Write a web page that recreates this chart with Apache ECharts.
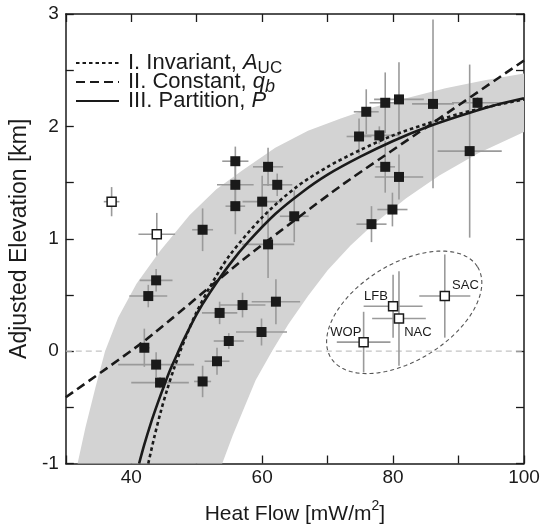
<!DOCTYPE html>
<html>
<head>
<meta charset="utf-8">
<script src="https://cdn.jsdelivr.net/npm/echarts@6/dist/echarts.min.js"></script>
<style>
  html, body { margin: 0; padding: 0; background: #fff; }
  #chart { width: 546px; height: 530px; }
</style>
</head>
<body>
<div id="chart"></div>
<script>
// filled squares: heat flow, elevation, +/- errors
const fillX  = [42.0, 42.6, 43.8, 43.8, 44.4, 50.9, 50.9, 53.1, 53.5, 54.9, 55.9, 55.9, 55.9, 57.0, 59.9, 60.0, 60.9,
                60.9, 62.1, 62.3, 64.9, 74.8, 75.9, 76.7, 77.9, 78.8, 78.8, 79.9, 80.9, 80.9, 86.1, 91.7, 92.9];
const fillY  = [0.03, 0.49, 0.63, -0.12, -0.28, 1.08, -0.27, -0.09, 0.34, 0.09, 1.69, 1.48, 1.29, 0.41, 0.17, 1.33, 1.64,
                0.95, 0.44, 1.48, 1.20, 1.91, 2.13, 1.13, 1.92, 2.21, 1.64, 1.26, 2.24, 1.55, 2.20, 1.78, 2.21];
const fillXe = [0.8, 2.9, 2.5, 5.8, 4.4, 1.6, 1.3, 1.9, 2.7, 2.3, 2.0, 2.8, 1.5, 3.5, 3.9, 3.0, 2.3,
                4.0, 3.7, 2.3, 2.2, 1.9, 1.9, 2.3, 3.0, 2.4, 1.5, 2.3, 3.8, 3.7, 3.2, 4.9, 3.9];
const fillYe = [0.17, 0.10, 0.10, 0.11, 0.05, 0.19, 0.14, 0.12, 0.10, 0.07, 0.13, 0.20, 0.25, 0.11, 0.12, 0.23, 0.17,
                0.30, 0.20, 0.10, 0.23, 0.16, 0.20, 0.16, 0.08, 0.27, 0.23, 0.15, 0.33, 0.20, 0.75, 0.77, 0.05];

// open squares
const openName = ['', '', 'WOP', 'LFB', 'NAC', 'SAC'];
const openX  = [37.0, 43.9, 75.5, 80.0, 80.9, 87.9];
const openY  = [1.33, 1.04, 0.08, 0.40, 0.29, 0.49];
const openXe = [1.2, 2.8, 4.1, 4.5, 4.1, 3.9];
const openYe = [0.13, 0.19, 0.27, 0.28, 0.42, 0.37];

// model curves
const invX = [42.6, 43.5, 44.5, 45.5, 46.5, 47.5, 48.5, 50, 52, 55, 60, 65, 70, 75, 80, 85, 90, 95, 100];
const invY = [-1.0, -0.77, -0.54, -0.34, -0.16, 0.0, 0.15, 0.35, 0.57, 0.85, 1.19, 1.45, 1.64, 1.79, 1.92, 2.02, 2.11, 2.18, 2.24];
const conX = [30, 42, 57, 72, 87.3, 100];
const conY = [-0.41, 0.09, 0.81, 1.47, 2.08, 2.586];
const parX = [41.2, 42, 43, 44, 45, 46, 47, 48, 50, 52, 55, 58, 62, 66, 70, 75, 80, 85, 90, 95, 100];
const parY = [-1.0, -0.83, -0.64, -0.47, -0.31, -0.16, -0.03, 0.10, 0.33, 0.52, 0.77, 0.98, 1.22, 1.41, 1.57, 1.73, 1.87, 1.99, 2.09, 2.18, 2.25];

// grey band
const bandUpX = [31.8, 33, 34.5, 36, 38, 40.8, 44.4, 48.9, 53, 57, 62, 67, 72, 77, 82, 88, 94, 100];
const bandUpY = [-1.0, -0.68, -0.33, 0.0, 0.3, 0.6, 0.89, 1.21, 1.44, 1.61, 1.81, 1.96, 2.07, 2.17, 2.25, 2.34, 2.41, 2.47];
const bandLoX = [53.9, 55.5, 57, 59, 61.5, 64, 67, 70, 73.5, 77, 82, 87, 93, 100];
const bandLoY = [-1.0, -0.75, -0.54, -0.26, 0.0, 0.24, 0.49, 0.72, 0.94, 1.13, 1.36, 1.56, 1.76, 1.95];

const zeroX = [30, 100];
const zeroY = [0, 0];

// dashed ellipse round the open group
const ellCenter = [81.7, 0.345];
const ellMajor = [92.9, 0.75];
const ellMinor = [85.6, -0.02];

const ink = '#1a1a1a';
const font = 'Liberation Sans, Arial, Helvetica, sans-serif';

const chart = echarts.init(document.getElementById('chart'));

function pairs(xs, ys) {
  return xs.map((x, i) => [x, ys[i]]);
}

function errorBars(xs, ys, xe, ye) {
  return {
    type: 'custom',
    silent: true,
    z: 3,
    encode: { x: 0, y: 1 },
    data: xs.map((x, i) => [x, ys[i], xe[i], ye[i]]),
    renderItem: (params, api) => {
      const x = api.value(0), y = api.value(1), dx = api.value(2), dy = api.value(3);
      const l = api.coord([x - dx, y]), r = api.coord([x + dx, y]);
      const t = api.coord([x, y + dy]), b = api.coord([x, y - dy]);
      const style = { stroke: '#9a9a9a', lineWidth: 1.6 };
      return {
        type: 'group',
        children: [
          { type: 'line', shape: { x1: l[0], y1: l[1], x2: r[0], y2: r[1] }, style: style },
          { type: 'line', shape: { x1: t[0], y1: t[1], x2: b[0], y2: b[1] }, style: style }
        ]
      };
    }
  };
}

function curve(name, xs, ys, dash, smooth) {
  return {
    name: name,
    type: 'line',
    data: pairs(xs, ys),
    smooth: smooth,
    symbol: 'none',
    silent: true,
    z: 5,
    itemStyle: { color: ink },
    lineStyle: { color: ink, width: 2.6, type: dash }
  };
}

const frameAxis = {
  axisLine: { show: true, onZero: false, lineStyle: { color: ink, width: 1.5 } },
  axisTick: { show: true, inside: true, length: 8, lineStyle: { color: ink, width: 1.3 } },
  splitLine: { show: false }
};

const option = {
  animation: false,
  backgroundColor: '#fff',
  textStyle: { fontFamily: font, color: ink },
  grid: { left: 62, right: 22, top: 14, bottom: 55, containLabel: false },
  legend: {
    orient: 'vertical',
    left: 70, top: 44,
    itemWidth: 43, itemHeight: 14, itemGap: -9,
    itemStyle: { opacity: 0 },
    data: ['I', 'II', 'III'],
    formatter: n => ({
      I: 'I. Invariant, {i|A}{sub|UC}',
      II: 'II. Constant, {i|q}{subi|b}',
      III: 'III. Partition, {i|P}'
    })[n],
    textStyle: {
      fontFamily: font, fontSize: 22, color: ink, lineHeight: 28, padding: [0, 0, 0, 4],
      rich: {
        i: { fontFamily: font, fontSize: 22, fontStyle: 'italic', color: ink, lineHeight: 28 },
        sub: { fontFamily: font, fontSize: 17, color: ink, lineHeight: 12, verticalAlign: 'bottom' },
        subi: { fontFamily: font, fontSize: 18, fontStyle: 'italic', color: ink, lineHeight: 12, verticalAlign: 'bottom' }
      }
    }
  },
  xAxis: [
    Object.assign({}, frameAxis, {
      type: 'value', min: 30, max: 100, interval: 10, position: 'bottom',
      axisLabel: { fontSize: 19, color: ink, margin: 5, fontFamily: font,
        formatter: v => (v % 20 === 0 ? String(v) : '') },
      name: 'Heat Flow [mW/m{sup|2}]',
      nameLocation: 'middle', nameGap: 36,
      nameTextStyle: { fontSize: 21, color: ink, fontFamily: font,
        rich: { sup: { fontSize: 14, verticalAlign: 'top', lineHeight: 30, fontFamily: font, color: ink } } }
    }),
    Object.assign({}, frameAxis, {
      type: 'value', min: 30, max: 100, interval: 10, position: 'top',
      axisLabel: { show: false }
    })
  ],
  yAxis: [
    Object.assign({}, frameAxis, {
      type: 'value', min: -1, max: 3, interval: 0.5, position: 'left',
      axisLabel: { fontSize: 19, color: ink, margin: 7, fontFamily: font,
        formatter: v => (Number.isInteger(v) ? String(v) : '') },
      name: 'Adjusted Elevation [km]',
      nameLocation: 'middle', nameGap: 24,
      nameTextStyle: { fontSize: 23, color: ink, fontFamily: font }
    }),
    Object.assign({}, frameAxis, {
      type: 'value', min: -1, max: 3, interval: 0.5, position: 'right',
      axisLabel: { show: false }
    })
  ],
  series: [
    {
      type: 'line',
      data: pairs(zeroX, zeroY),
      symbol: 'none',
      silent: true,
      z: 1,
      lineStyle: { color: '#c4c4c4', width: 1.2, type: [6, 4] }
    },
    {
      type: 'custom',
      silent: true,
      z: 2,
      encode: { x: 0, y: 1 },
      data: [[bandUpX[0], bandUpY[0]]],
      renderItem: (params, api) => {
        const pts = pairs(bandUpX, bandUpY).map(p => api.coord(p))
          .concat(pairs(bandLoX, bandLoY).reverse().map(p => api.coord(p)));
        return { type: 'polygon', shape: { points: pts }, style: { fill: '#d3d3d3' } };
      }
    },
    errorBars(fillX, fillY, fillXe, fillYe),
    errorBars(openX, openY, openXe, openYe),
    {
      type: 'custom',
      silent: true,
      z: 4,
      encode: { x: 0, y: 1 },
      data: [ellCenter],
      renderItem: (params, api) => {
        const c = api.coord(ellCenter), a = api.coord(ellMajor), b = api.coord(ellMinor);
        const u = [a[0] - c[0], a[1] - c[1]], v = [b[0] - c[0], b[1] - c[1]];
        const pts = [];
        for (let k = 0; k < 120; k++) {
          const t = k / 120 * Math.PI * 2;
          pts.push([c[0] + u[0] * Math.cos(t) + v[0] * Math.sin(t), c[1] + u[1] * Math.cos(t) + v[1] * Math.sin(t)]);
        }
        return { type: 'polygon', shape: { points: pts },
          style: { fill: 'none', stroke: '#555', lineWidth: 1.1, lineDash: [4, 3] } };
      }
    },
    curve('I', invX, invY, [3.5, 3], 0.3),
    curve('II', conX, conY, [9, 5], 0.2),
    curve('III', parX, parY, 'solid', 0.3),
    {
      type: 'scatter',
      symbol: 'rect',
      symbolSize: 10,
      silent: true,
      z: 6,
      itemStyle: { color: ink, opacity: 1 },
      data: pairs(fillX, fillY)
    },
    {
      type: 'scatter',
      symbol: 'rect',
      symbolSize: 9,
      silent: true,
      z: 7,
      itemStyle: { color: '#fff', borderColor: ink, borderWidth: 1.5, opacity: 1 },
      label: { show: true, fontSize: 13, color: ink, fontFamily: font, formatter: p => openName[p.dataIndex] },
      data: openX.map((x, i) => {
        const pos = {
          WOP: { position: 'left', distance: 0, offset: [3, -10] },
          LFB: { position: 'left', distance: 0, offset: [0, -10] },
          NAC: { position: 'right', distance: 0, offset: [0, 14] },
          SAC: { position: 'right', distance: 2, offset: [0, -11] }
        }[openName[i]];
        return { value: [x, openY[i]], label: pos || { show: false } };
      })
    }
  ]
};

chart.setOption(option);
</script>
</body>
</html>
